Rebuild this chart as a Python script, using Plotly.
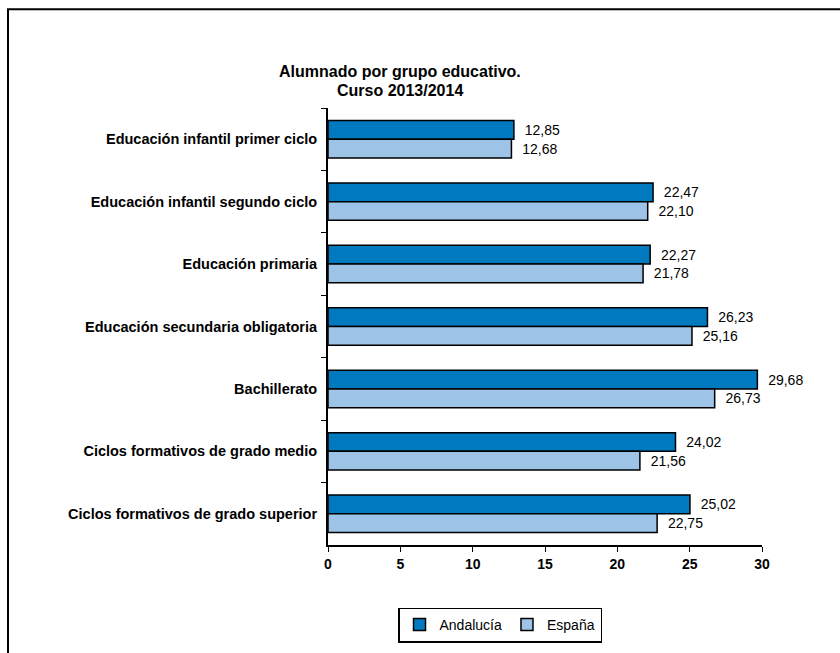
import plotly.graph_objects as go

categories = [
    "Educación infantil primer ciclo",
    "Educación infantil segundo ciclo",
    "Educación primaria",
    "Educación secundaria obligatoria",
    "Bachillerato",
    "Ciclos formativos de grado medio",
    "Ciclos formativos de grado superior",
]
andalucia = [12.85, 22.47, 22.27, 26.23, 29.68, 24.02, 25.02]
espana = [12.68, 22.10, 21.78, 25.16, 26.73, 21.56, 22.75]
x_ticks = [0, 5, 10, 15, 20, 25, 30]
title_lines = ["Alumnado por grupo educativo.", "Curso 2013/2014"]

W, H = 840, 653
L, R, T, B = 328, 78, 108, 107
pw, ph = W - L - R, H - T - B

fig = go.Figure()
fig.add_trace(go.Bar(
    y=categories, x=andalucia, orientation="h", name="Andalucía",
    marker=dict(color="#0079BF", line=dict(color="black", width=1.5)),
    texttemplate="  %{x:.2f}", textposition="outside",
    textfont=dict(size=14, color="black"), cliponaxis=False,
))
fig.add_trace(go.Bar(
    y=categories, x=espana, orientation="h", name="España",
    marker=dict(color="#9DC3E6", line=dict(color="black", width=1.5)),
    texttemplate="  %{x:.2f}", textposition="outside",
    textfont=dict(size=14, color="black"), cliponaxis=False,
))

# outer frame (right and bottom edges fall off the page)
fig.add_shape(type="rect", xref="paper", yref="paper",
              x0=(8 - L) / pw, x1=(W + 10 - L) / pw,
              y0=-(H + 10 - T - ph) / ph, y1=(T + ph - 9) / ph,
              line=dict(color="black", width=2))

# two-line title, tight line spacing
for line, ypix in zip(title_lines, [71, 90]):
    fig.add_annotation(text=f"<b>{line}</b>", xref="paper", yref="paper",
                       x=(400 - L) / pw, y=(T + ph - ypix) / ph,
                       xanchor="center", yanchor="middle", showarrow=False,
                       font=dict(size=16))

fig.update_layout(
    width=W, height=H,
    margin=dict(l=L, r=R, t=T, b=B),
    paper_bgcolor="white", plot_bgcolor="white",
    font=dict(family="Liberation Sans, Arial", color="black"),
    separators=",.",
    barmode="group", bargap=0.4, bargroupgap=0,
    xaxis=dict(range=[0, 30], tickvals=x_ticks, showgrid=False,
               showline=True, linecolor="black", linewidth=2,
               ticks="outside", ticklen=5, tickcolor="black",
               tickfont=dict(size=14, weight="bold"), zeroline=False),
    yaxis=dict(autorange="reversed", showgrid=False, showline=True,
               linecolor="black", linewidth=2, ticks="outside", ticklen=5,
               tickson="boundaries", tickcolor="black",
               tickfont=dict(size=14.5, weight="bold"), ticklabelstandoff=6),
    legend=dict(orientation="h", x=(500 - L) / pw, xanchor="center",
                y=-(625 - T - ph) / ph, yanchor="middle",
                bordercolor="black", borderwidth=1.5, font=dict(size=14),
                itemwidth=30, traceorder="normal"),
)

fig.write_html("out.html", config={"displayModeBar": False},
               post_script="document.body.style.margin='0';")
